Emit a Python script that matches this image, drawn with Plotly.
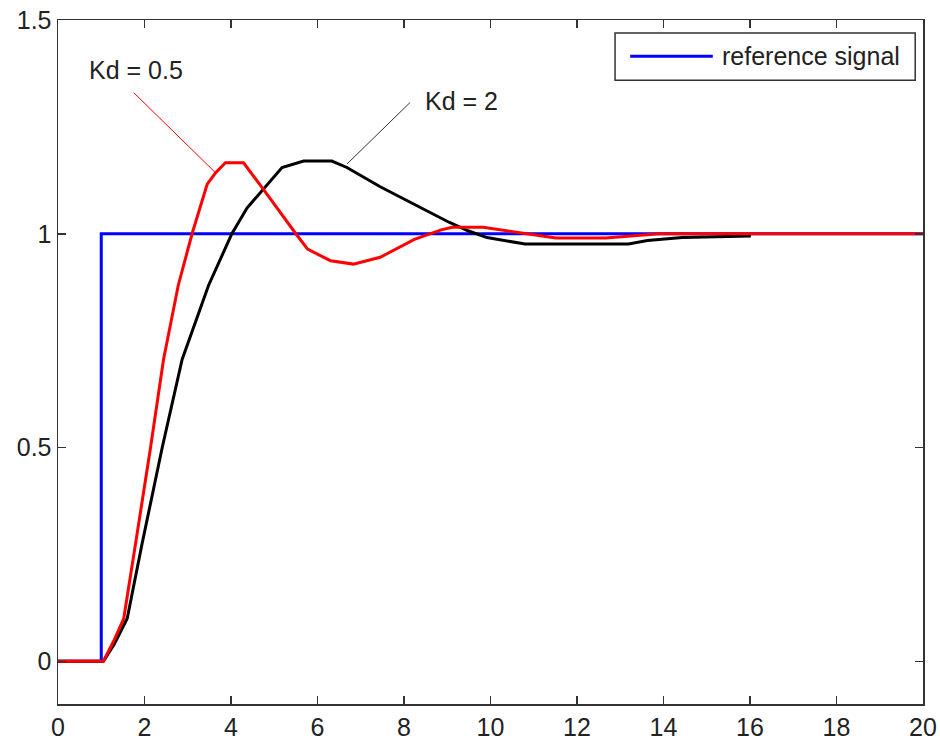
import plotly.graph_objects as go

# Reference step signal
ref_t = [0, 1, 1, 20]
ref_y = [0, 0, 1, 1]

# Response with Kd = 2 (black)
kd2_t = [0, 1.05, 1.3, 1.60, 1.94, 2.41, 2.87, 3.48, 4.02, 4.37, 5.18, 5.68, 6.33, 6.68,
         7.45, 9.04, 9.48, 9.92, 10.8, 13.19, 13.63, 14.43, 16.02]
kd2_y = [0, 0, 0.04, 0.10, 0.273, 0.5, 0.706, 0.879, 1.0, 1.06, 1.155, 1.170, 1.170, 1.155,
         1.110, 1.027, 1.007, 0.991, 0.976, 0.976, 0.984, 0.991, 0.995]

# Response with Kd = 0.5 (red)
kd05_t = [0, 1.05, 1.3, 1.52, 1.79, 2.14, 2.44, 2.78, 3.10, 3.45, 3.64, 3.87, 4.29, 4.75,
          5.50, 5.77, 6.30, 6.83, 7.45, 8.24, 8.86, 9.12, 9.83, 10.36, 11.07, 11.51, 12.66,
          13.90, 20]
kd05_y = [0, 0, 0.05, 0.10, 0.273, 0.5, 0.706, 0.879, 1.0, 1.116, 1.142, 1.166, 1.166, 1.104,
          1.0, 0.964, 0.937, 0.929, 0.945, 0.987, 1.009, 1.015, 1.015, 1.007, 0.998, 0.990, 0.990,
          1.0, 1.0]

x_ticks = [0, 2, 4, 6, 8, 10, 12, 14, 16, 18, 20]
y_ticks = [0, 0.5, 1, 1.5]
y_tick_labels = ["0", "0.5", "1", "1.5"]

FONT = "Liberation Sans, Arial, sans-serif"
AXC = "#333333"

fig = go.Figure()
fig.add_trace(go.Scatter(x=ref_t, y=ref_y, mode="lines", name="reference signal",
                         line=dict(color="#0000ff", width=3), showlegend=False))
fig.add_trace(go.Scatter(x=kd2_t, y=kd2_y, mode="lines", name="Kd = 2",
                         line=dict(color="#000000", width=3), showlegend=False))
fig.add_trace(go.Scatter(x=kd05_t, y=kd05_y, mode="lines", name="Kd = 0.5",
                         line=dict(color="#ff0000", width=3), showlegend=False))

axis_common = dict(showgrid=False, zeroline=False, showline=True, linecolor=AXC, linewidth=1.5,
                   mirror="ticks", ticks="inside", ticklen=8, tickwidth=1.5, tickcolor=AXC,
                   automargin=False, ticklabeloverflow="allow",
                   tickfont=dict(family=FONT, size=25, color="#222222"))

fig.update_xaxes(range=[0, 20], tickvals=x_ticks, **axis_common)
fig.update_yaxes(range=[-0.1, 1.5], tickvals=y_ticks, ticktext=y_tick_labels, **axis_common)

# Annotation leader lines
fig.add_shape(type="line", x0=1.75, y0=1.330, x1=3.64, y1=1.143,
              line=dict(color="#ff0000", width=1))
fig.add_shape(type="line", x0=8.14, y0=1.307, x1=6.68, y1=1.163,
              line=dict(color="#333333", width=1))
fig.add_annotation(x=0.67, y=1.382, text="Kd = 0.5", showarrow=False, xanchor="left",
                   yanchor="middle", font=dict(family=FONT, size=25, color="#222222"))
fig.add_annotation(x=8.43, y=1.311, text="Kd = 2", showarrow=False, xanchor="left",
                   yanchor="middle", font=dict(family=FONT, size=25, color="#222222"))

# Legend box (manual, to mimic the original)
fig.add_shape(type="rect", xref="paper", yref="paper", x0=0.644, x1=0.991, y0=0.912, y1=0.981,
              line=dict(color=AXC, width=1.5), fillcolor="white")
fig.add_shape(type="line", xref="paper", yref="paper", x0=0.6615, x1=0.757, y0=0.947, y1=0.947,
              line=dict(color="#0000ff", width=3))
fig.add_annotation(xref="paper", yref="paper", x=0.765, y=0.947, text="reference signal",
                   showarrow=False, xanchor="left", yanchor="middle",
                   font=dict(family=FONT, size=25, color="#222222"))

fig.update_layout(width=940, height=742, plot_bgcolor="white", paper_bgcolor="white",
                  margin=dict(l=58, r=17, t=20, b=38, autoexpand=False), showlegend=False,
                  hovermode=False)

fig.write_html("out.html", config={"displayModeBar": False, "staticPlot": True},
               post_script="document.body.style.margin='0';document.body.style.overflow='hidden';")
